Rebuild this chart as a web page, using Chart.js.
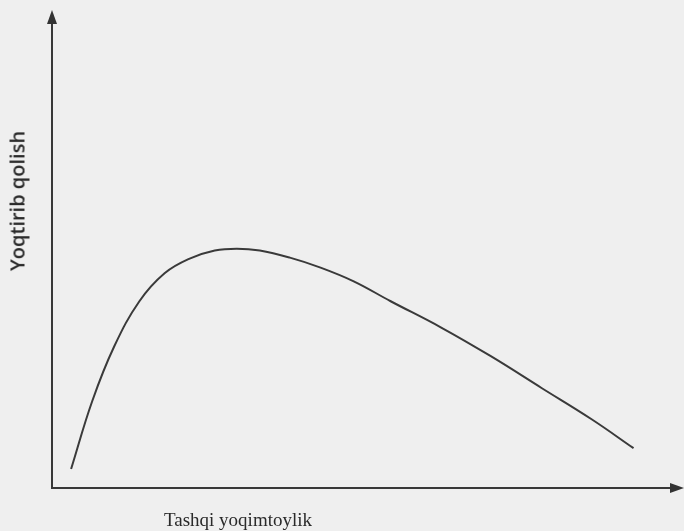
<!DOCTYPE html>
<html>
<head>
<meta charset="utf-8">
<script src="https://cdn.jsdelivr.net/npm/chart.js@4"></script>
<style>
  html, body { margin: 0; padding: 0; background: #efefef; }
  #wrap { position: relative; width: 684px; height: 531px; background: #efefef; }
  canvas { position: absolute; left: 0; top: 0; }
  .lbl { position: absolute; color: #2a2a2a; white-space: nowrap; }
  #xlab { left: 238px; top: 520px; transform: translate(-50%, -50%); font-size: 19px; font-family: "Liberation Serif", "Times New Roman", serif; }
  #ylab { left: 17px; top: 201px; transform: translate(-50%, -50%) rotate(-90deg); font-size: 20px; font-weight: 600; font-family: "Open Sans", "Liberation Sans", sans-serif; }
</style>
</head>
<body>
<div id="wrap">
  <canvas id="c" width="684" height="531"></canvas>
  <div class="lbl" id="xlab">Tashqi yoqimtoylik</div>
  <div class="lbl" id="ylab">Yoqtirib qolish</div>
</div>
<script>
// Curve values (x: external attractiveness, y: liking)
const curveX = [3.05, 6.42, 9.95, 13.96, 17.98, 21.99, 26.0, 29.5, 33.2, 38.0, 42.9, 48.2, 54.1, 62.1, 70.1, 78.2, 86.2, 92.9];
const curveY = [4.0, 18.3, 29.9, 39.4, 45.3, 48.4, 50.1, 50.5, 50.1, 48.6, 46.5, 43.6, 39.4, 33.9, 27.8, 21.1, 14.5, 8.4];
const xLabel = "Tashqi yoqimtoylik";
const yLabel = "Yoqtirib qolish";

const points = curveX.map((x, i) => ({ x: x, y: curveY[i] }));

const arrows = {
  id: 'arrows',
  afterDraw(chart) {
    const { ctx, chartArea: a } = chart;
    ctx.save();
    ctx.fillStyle = '#333';
    ctx.beginPath();
    ctx.moveTo(a.left, a.top - 4);
    ctx.lineTo(a.left - 5, a.top + 10);
    ctx.lineTo(a.left + 5, a.top + 10);
    ctx.closePath();
    ctx.fill();
    ctx.beginPath();
    ctx.moveTo(a.right + 6, a.bottom);
    ctx.lineTo(a.right - 8, a.bottom - 5);
    ctx.lineTo(a.right - 8, a.bottom + 5);
    ctx.closePath();
    ctx.fill();
    ctx.restore();
  }
};

new Chart(document.getElementById('c'), {
  type: 'scatter',
  data: {
    datasets: [{
      data: points,
      showLine: true,
      tension: 0.4,
      borderColor: '#3a3a3a',
      borderWidth: 2,
      pointRadius: 0,
      fill: false
    }]
  },
  options: {
    responsive: false,
    animation: false,
    layout: { padding: { left: 52, top: 14, right: 6, bottom: 43 } },
    plugins: { legend: { display: false }, tooltip: { enabled: false } },
    scales: {
      x: {
        type: 'linear', min: 0, max: 100,
        grid: { display: false, drawTicks: false },
        border: { display: true, color: '#383838', width: 2 },
        ticks: { display: false }
      },
      y: {
        type: 'linear', min: 0, max: 100,
        grid: { display: false, drawTicks: false },
        border: { display: true, color: '#383838', width: 2 },
        ticks: { display: false }
      }
    }
  },
  plugins: [arrows]
});
</script>
</body>
</html>
